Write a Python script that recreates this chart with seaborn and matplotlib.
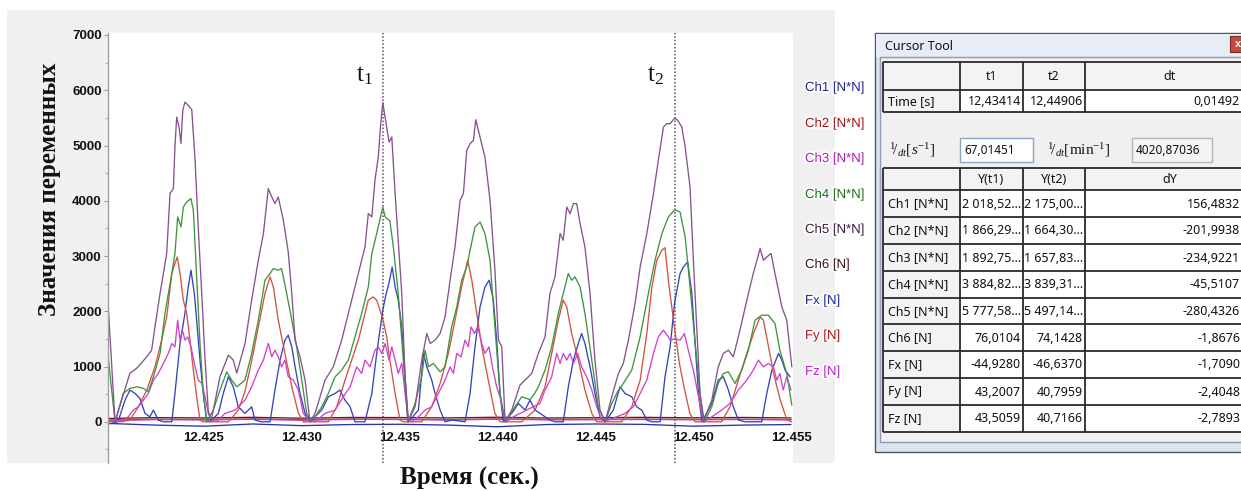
import numpy as np
import pandas as pd
import matplotlib
matplotlib.use("Agg")
import matplotlib.pyplot as plt
import seaborn as sns
from matplotlib.patches import Rectangle
from matplotlib.ticker import MultipleLocator
import matplotlib.patheffects as pe

# ---------------- data (time offsets in ms after 12.420 s, values) ----------------
T_BASE = 12.42
T1, T2 = 12.43414, 12.44906

ch5_pts = [(0.10,2150),(0.46,0),(1.22,880),(1.57,970),(2.08,1175),(2.33,1296),(2.50,1718),(2.76,2325),(3.10,3045),
           (3.27,4135),(3.44,4220),(3.52,4972),(3.61,5514),(3.73,5333),(3.83,5037),(3.92,5636),(4.03,5786),(4.20,5726),
           (4.38,5648),(4.55,4732),(4.71,3526),(4.89,2321),(5.06,1116),(5.22,212),(5.36,0),(5.82,814),(6.25,1206),
           (6.50,1116),(6.68,880),(7.10,1417),(7.44,2200),(7.78,2923),(8.04,3406),(8.29,4220),(8.47,4068),(8.63,3949),
           (8.80,4068),(9.06,3647),(9.31,3073),(9.49,2321),(9.66,1477),(9.91,1175),(10.17,754),(10.42,0),(10.68,152),
           (11.19,754),(11.61,994),(12.04,1477),(12.55,2200),(12.81,2562),(13.23,3164),(13.40,3768),(13.58,3707),
           (13.74,4370),(13.91,4791),(14.02,5333),(14.14,5777),(14.34,5333),(14.46,5063),(14.60,5153),(14.77,4130),
           (14.93,3285),(15.11,2321),(15.28,814),(15.42,0),(15.79,271),(16.13,1116),(16.39,1598),(16.56,1417),
           (16.81,1477),(17.07,1598),(17.32,1898),(17.58,2562),(17.83,3164),(18.09,4008),(18.26,4130),(18.43,4912),
           (18.60,5033),(18.77,5093),(18.89,5467),(19.11,5153),(19.36,4791),(19.62,4008),(19.87,2743),(20.05,1477),
           (20.22,1356),(20.39,0),(20.73,212),(21.15,664),(21.41,754),(21.75,875),(22.09,1237),(22.43,1537),
           (22.68,2321),(22.94,2622),(23.20,3406),(23.36,3285),(23.54,3887),(23.71,3768),(23.88,3949),(24.05,3949),
           (24.22,3587),(24.47,3164),(24.73,2321),(24.98,1116),(25.24,212),(25.50,0),(25.84,452),(26.18,875),
           (26.43,1056),(26.69,1477),(27.03,2140),(27.29,2803),(27.63,3406),(27.97,4130),(28.22,4732),(28.48,5333),
           (28.65,5395),(28.82,5395),(29.06,5497),(29.21,5455),(29.42,5333),(29.59,4972),(29.84,4249),(30.01,2923),
           (30.18,1718),(30.35,513),(30.52,0),(30.95,392),(31.28,994),(31.54,1237),(31.80,1296),(32.05,1175),
           (32.39,1658),(32.74,2200),(33.07,2683),(33.42,3135),(33.59,2923),(33.76,2983),(33.98,3045),(34.18,2683),
           (34.53,2079),(34.78,1839),(35.04,994)]

ch4_pts = [(0.10,1200),(0.46,0),(0.88,513),(1.22,604),(1.57,633),(1.91,604),(2.16,543),(2.42,814),(2.76,1237),
           (3.01,1960),(3.36,2683),(3.52,3045),(3.66,3707),(3.83,3526),(3.95,3887),(4.12,3978),(4.34,4039),(4.46,3828),
           (4.63,2622),(4.80,1417),(4.97,513),(5.14,0),(5.48,212),(5.82,573),(6.17,904),(6.42,754),(6.68,633),
           (7.10,754),(7.44,1237),(7.78,1839),(8.12,2562),(8.38,2683),(8.55,2773),(8.80,2743),(8.97,2773),(9.23,2321),
           (9.49,1839),(9.74,1356),(10.00,754),(10.25,152),(10.51,0),(11.02,271),(11.36,513),(11.70,814),(12.04,935),
           (12.38,1116),(12.72,1537),(13.06,1960),(13.40,2441),(13.58,3045),(13.83,3406),(14.14,3885),(14.26,3707),
           (14.50,3640),(14.68,3164),(14.93,2321),(15.19,1116),(15.42,0),(15.79,332),(16.13,814),(16.30,1296),
           (16.47,994),(16.72,1056),(17.07,904),(17.32,994),(17.66,1718),(17.92,2079),(18.17,2562),(18.43,2803),
           (18.60,3104),(18.85,3526),(19.11,3616),(19.36,3406),(19.62,2923),(19.87,1718),(20.13,513),(20.39,0),
           (20.90,271),(21.24,452),(21.66,400),(21.90,513),(22.09,633),(22.43,935),(22.77,1356),(23.11,1960),
           (23.36,2321),(23.62,2683),(23.79,2562),(23.96,2622),(24.22,2441),(24.47,1960),(24.82,1116),(25.15,271),
           (25.50,0),(25.84,332),(26.18,573),(26.43,694),(26.86,935),(27.29,1537),(27.71,2321),(28.05,2923),
           (28.40,3406),(28.73,3707),(29.06,3839),(29.33,3797),(29.59,3345),(29.84,2441),(30.10,1417),(30.35,513),
           (30.57,0),(30.95,271),(31.28,694),(31.54,875),(31.80,904),(32.14,694),(32.48,935),(32.82,1296),
           (33.16,1839),(33.50,1929),(33.84,1929),(34.18,1779),(34.43,1296),(34.78,875),(35.04,300)]

ch2_pts = [(0.10,20),(0.80,0),(1.22,31),(1.65,271),(2.08,573),(2.50,994),(2.84,1477),(3.10,1898),(3.36,2683),
           (3.52,2864),(3.64,2983),(3.78,2683),(3.95,2200),(4.12,1960),(4.29,1477),(4.46,935),(4.63,452),(4.80,31),
           (4.97,0),(6.25,0),(6.76,212),(7.10,550),(7.44,1100),(7.78,1718),(8.12,2321),(8.38,2622),(8.55,2441),
           (8.80,1839),(9.14,1237),(9.49,633),(9.83,152),(10.08,0),(11.36,0),(11.79,271),(12.21,754),(12.55,1116),
           (12.89,1477),(13.23,1960),(13.40,2200),(13.65,2260),(13.83,2200),(14.14,1866),(14.34,1537),(14.50,1116),
           (14.77,513),(15.02,31),(15.19,0),(16.13,0),(16.64,271),(17.07,694),(17.49,1237),(17.83,1839),(18.17,2441),
           (18.48,2923),(18.69,2562),(18.94,1960),(19.20,1356),(19.53,754),(19.87,152),(20.13,0),(21.24,0),
           (21.92,212),(22.43,633),(22.77,1237),(23.11,1839),(23.36,2200),(23.54,2079),(23.79,1598),(24.13,1116),
           (24.47,573),(24.82,152),(25.07,0),(26.35,0),(26.86,271),(27.29,754),(27.63,1598),(27.89,2441),
           (28.14,2923),(28.40,3104),(28.56,3150),(28.75,2500),(29.06,1664),(29.30,1050),(29.55,600),(29.83,152),
           (30.09,0),(31.45,0),(31.88,271),(32.31,754),(32.74,1237),(33.08,1598),(33.42,1898),(33.59,1839),
           (33.85,1356),(34.11,875),(34.45,392),(34.79,31),(35.04,0)]

ch1_pts = [(0.10,-40),(0.61,0),(0.97,392),(1.22,573),(1.48,513),(1.73,423),(1.99,152),(2.24,90),(2.42,212),
           (2.67,31),(2.93,0),(3.36,0),(3.52,513),(3.78,1417),(4.03,1960),(4.20,2441),(4.34,2743),(4.51,2321),
           (4.63,1839),(4.80,1116),(4.97,513),(5.14,31),(5.31,0),(5.74,152),(5.99,513),(6.25,814),(6.50,633),
           (6.76,271),(7.10,152),(7.44,271),(7.61,31),(7.95,0),(8.38,0),(8.63,573),(8.89,1116),(9.14,1477),
           (9.31,1568),(9.49,1356),(9.66,994),(9.91,513),(10.17,152),(10.42,0),(11.02,212),(11.36,452),(11.70,513),
           (11.95,573),(12.21,392),(12.47,271),(12.72,0),(13.23,0),(13.58,513),(13.83,1237),(14.14,2018),(14.30,2300),
           (14.45,2500),(14.62,2800),(14.77,2441),(14.93,2200),(15.11,1718),(15.28,814),(15.45,0),(15.96,212),
           (16.22,1237),(16.39,994),(16.64,754),(16.81,513),(17.07,212),(17.32,0),(17.66,31),(18.34,0),(18.60,513),
           (18.85,1356),(19.11,2079),(19.36,2441),(19.58,2562),(19.79,2200),(19.96,1477),(20.13,513),(20.30,0),
           (20.73,152),(21.07,332),(21.41,212),(21.66,392),(21.92,212),(22.17,152),(22.43,90),(22.68,31),(22.94,0),
           (23.36,0),(23.62,633),(23.88,1116),(24.13,1417),(24.30,1598),(24.47,1417),(24.73,994),(24.98,513),
           (25.24,90),(25.50,0),(25.92,212),(26.26,633),(26.52,513),(26.86,452),(27.11,271),(27.37,212),(27.63,31),
           (27.89,0),(28.31,0),(28.56,814),(28.82,1356),(29.06,2175),(29.33,2683),(29.50,2803),(29.72,2893),
           (29.93,2321),(30.10,1417),(30.27,513),(30.45,0),(30.95,332),(31.28,754),(31.54,814),(31.80,573),
           (32.05,271),(32.31,31),(32.65,0),(33.50,0),(33.76,513),(34.02,935),(34.36,1237),(34.53,1116),(34.70,935),
           (34.95,814)]

ch3_pts = [(0.10,0),(0.88,31),(1.14,90),(1.39,212),(1.65,271),(1.91,392),(2.16,513),(2.42,754),(2.67,875),
           (2.93,1056),(3.18,1237),(3.36,1417),(3.52,1356),(3.66,1839),(3.78,1477),(3.90,1658),(4.03,1477),
           (4.17,1537),(4.34,1356),(4.55,994),(4.71,754),(4.89,694),(5.06,452),(5.22,152),(5.40,31),(5.74,31),
           (6.08,152),(6.59,212),(7.10,392),(7.44,633),(7.78,935),(8.04,1116),(8.29,1417),(8.47,1175),(8.63,1296),
           (8.80,1175),(8.97,994),(9.14,1116),(9.31,814),(9.57,754),(9.83,573),(10.08,152),(10.34,31),(10.68,0),
           (11.19,152),(11.70,212),(12.12,452),(12.47,633),(12.81,994),(13.06,875),(13.23,1116),(13.49,994),
           (13.74,1296),(13.91,1356),(14.09,1237),(14.26,1417),(14.46,1116),(14.60,1356),(14.77,1116),(14.93,875),
           (15.11,1056),(15.28,513),(15.45,31),(15.62,0),(15.96,90),(16.30,212),(16.64,271),(16.98,513),(17.32,754),
           (17.58,994),(17.75,875),(17.92,1237),(18.14,1175),(18.34,1477),(18.51,1356),(18.65,1718),(18.82,1598),
           (18.99,1718),(19.20,1417),(19.36,1237),(19.57,1356),(19.74,994),(19.96,633),(20.13,452),(20.30,152),
           (20.47,0),(20.81,90),(21.15,152),(21.49,212),(21.83,271),(22.17,332),(22.43,573),(22.77,814),(23.03,1237),
           (23.20,1056),(23.36,1237),(23.54,1116),(23.71,1237),(23.88,1056),(24.10,1237),(24.30,994),(24.56,814),
           (24.82,573),(25.07,271),(25.33,31),(25.66,31),(26.09,90),(26.52,152),(26.94,271),(27.29,513),(27.63,754),
           (27.97,1237),(28.22,1537),(28.48,1658),(28.73,1537),(28.82,1477),(29.06,1500),(29.33,1477),(29.55,1598),
           (29.75,1296),(30.01,935),(30.27,452),(30.52,0),(30.95,90),(31.46,212),(31.88,332),(32.31,573),(32.74,754),
           (33.07,935),(33.33,1116),(33.59,994),(33.84,1056),(34.10,994),(34.27,754),(34.43,875),(34.60,573),
           (34.78,814),(35.00,573)]

small_ms = [0.1, 2.5, 5.0, 7.5, 10.0, 12.5, 15.0, 17.5, 20.0, 22.5, 25.0, 27.5, 30.0, 32.5, 35.0]
ch6_vals = [60, 75, 70, 80, 65, 78, 76, 70, 82, 68, 74, 80, 72, 78, 70]
fx_vals = [-30, -60, -80, -40, -70, -50, -45, -60, -90, -50, -40, -47, -80, -60, -50]
fy_vals = [30, 45, 40, 50, 35, 48, 43, 38, 50, 40, 42, 47, 41, 45, 40]
fz_vals = [25, 40, 35, 45, 30, 44, 43, 35, 46, 38, 40, 41, 38, 42, 36]

channels = ["Ch1 [N*N]", "Ch2 [N*N]", "Ch3 [N*N]", "Ch4 [N*N]", "Ch5 [N*N]", "Ch6 [N]", "Fx [N]", "Fy [N]", "Fz [N]"]
line_colors = ["#3444bb", "#d2533e", "#cc44cc", "#3f953f", "#86528f", "#5a1c1c", "#2a34a8", "#b0201c", "#c236c4"]
label_colors = ["#1f2a8a", "#a31515", "#b41eb4", "#1f6e1f", "#3d1f3d", "#3a1414", "#1a239c", "#a81616", "#b424c8"]

xtick_vals = [12.425, 12.430, 12.435, 12.440, 12.445, 12.450, 12.455]
xtick_labels = ["12.425", "12.430", "12.435", "12.440", "12.445", "12.450", "12.455"]
ytick_vals = [0, 1000, 2000, 3000, 4000, 5000, 6000, 7000]

# cursor tool table content
cur_header = ["", "t1", "t2", "dt"]
time_row = ["Time [s]", "12,43414", "12,44906", "0,01492"]
inv_dt_s = "67,01451"
inv_dt_min = "4020,87036"
y_header = ["", "Y(t1)", "Y(t2)", "dY"]
y_t1 = ["2 018,52…", "1 866,29…", "1 892,75…", "3 884,82…", "5 777,58…", "76,0104", "-44,9280", "43,2007", "43,5059"]
y_t2 = ["2 175,00…", "1 664,30…", "1 657,83…", "3 839,31…", "5 497,14…", "74,1428", "-46,6370", "40,7959", "40,7166"]
d_y = ["156,4832", "-201,9938", "-234,9221", "-45,5107", "-280,4326", "-1,8676", "-1,7090", "-2,4048", "-2,7893"]

# ---------------- build long data frame ----------------
frames = []
for name, pts in [("Ch1 [N*N]", ch1_pts), ("Ch2 [N*N]", ch2_pts), ("Ch3 [N*N]", ch3_pts),
                  ("Ch4 [N*N]", ch4_pts), ("Ch5 [N*N]", ch5_pts)]:
    arr = np.array(pts, dtype=float)
    frames.append(pd.DataFrame({"time": T_BASE + arr[:, 0] / 1000.0, "value": arr[:, 1], "channel": name}))
for name, vals in [("Ch6 [N]", ch6_vals), ("Fx [N]", fx_vals), ("Fy [N]", fy_vals), ("Fz [N]", fz_vals)]:
    frames.append(pd.DataFrame({"time": T_BASE + np.array(small_ms) / 1000.0, "value": vals, "channel": name}))
df = pd.concat(frames, ignore_index=True)

# ---------------- figure ----------------
sns.set_theme(style="white")
plt.rcParams["font.family"] = ["Liberation Sans", "DejaVu Sans"]
plt.rcParams["mathtext.fontset"] = "custom"
plt.rcParams["mathtext.rm"] = "Liberation Serif"
plt.rcParams["mathtext.it"] = "Liberation Serif:italic"

W, H = 1241, 491
fig = plt.figure(figsize=(W / 100, H / 100), dpi=100)
fig.patch.set_facecolor("white")

# grey panel behind the chart
fig.add_artist(Rectangle((7 / W, 1 - 463 / H), 828 / W, 453 / H, transform=fig.transFigure,
                         facecolor="#f0f0f0", edgecolor="none", zorder=-5))

ax = fig.add_axes([108 / W, 1 - 463 / H, 685 / W, 430 / H])
ax.set_facecolor("white")
palette = dict(zip(channels, line_colors))
draw_order = ["Ch6 [N]", "Fx [N]", "Fy [N]", "Fz [N]", "Ch1 [N*N]", "Ch2 [N*N]", "Ch3 [N*N]", "Ch4 [N*N]", "Ch5 [N*N]"]
sns.lineplot(data=df, x="time", y="value", hue="channel", hue_order=draw_order, palette=palette,
             estimator=None, sort=False, legend=False, linewidth=0.95, ax=ax)

ax.set_xlim(12.4201, 12.4551)
ax.set_ylim(-746, 7036)
ax.set_xlabel("")
ax.set_ylabel("")
ax.set_xticks(xtick_vals)
ax.set_xticklabels(xtick_labels)
ax.set_yticks(ytick_vals)
ax.set_yticklabels([str(v) for v in ytick_vals])
ax.yaxis.set_minor_locator(MultipleLocator(500))
ax.tick_params(axis="x", which="both", length=0, pad=-22, labelsize=9.5, labelcolor="#111111")
ax.tick_params(axis="y", which="major", direction="out", length=3, width=0.8, color="#9a9a9a",
               pad=1.5, labelsize=9.5, labelcolor="#111111", left=True)
ax.tick_params(axis="y", which="minor", direction="out", length=2, width=0.8, color="#b0b0b0", left=True)
for lab in ax.get_xticklabels() + ax.get_yticklabels():
    lab.set_fontweight("bold")
for side in ["top", "right", "bottom"]:
    ax.spines[side].set_visible(False)
ax.spines["left"].set_color("#a0a0a0")
ax.spines["left"].set_linewidth(1.0)

for tc in (T1, T2):
    ax.axvline(tc, color="#555555", linestyle=(0, (1, 1.3)), linewidth=1.1, zorder=1)
ax.annotate(r"$\mathrm{t_1}$", xy=(T1, 1), xycoords=("data", "axes fraction"), xytext=(-10, -42),
            textcoords="offset pixels", ha="right", va="center", fontsize=18, color="#111111")
ax.annotate(r"$\mathrm{t_2}$", xy=(T2, 1), xycoords=("data", "axes fraction"), xytext=(-11, -42),
            textcoords="offset pixels", ha="right", va="center", fontsize=18, color="#111111")

# axis titles
fig.text(50 / W, 1 - 189 / H, "Значения переменных", rotation=90, ha="center", va="center",
         fontsize=18, fontweight="bold", family=["Liberation Serif", "DejaVu Serif"], color="#111111")
fig.text(469 / W, 1 - 478 / H, "Время (сек.)", ha="center", va="center",
         fontsize=18, fontweight="bold", family=["Liberation Serif", "DejaVu Serif"], color="#111111")

# legend (coloured labels)
leg_y = [88, 124, 159, 195, 230, 265, 301, 336, 372]
for name, col, yy in zip(channels, label_colors, leg_y):
    fig.text(805 / W, 1 - yy / H, name, ha="left", va="center", fontsize=9.5, color=col,
             path_effects=[pe.withStroke(linewidth=2.5, foreground="white")])

# ---------------- Cursor Tool window ----------------
ui = fig.add_axes([0, 0, 1, 1], zorder=5)
ui.set_xlim(0, W)
ui.set_ylim(H, 0)
ui.axis("off")
ui.patch.set_alpha(0)

TF = ["Noto Sans", "DejaVu Sans"]
ui.add_patch(Rectangle((875, 33), 380, 419, facecolor="#dbe5f1", edgecolor="#4a5566", lw=1.0))
ui.add_patch(Rectangle((876, 34), 380, 23, facecolor="#e6edf6", edgecolor="none"))
ui.text(885, 46, "Cursor Tool", ha="left", va="center", fontsize=9, family=TF, color="#111111")
ui.add_patch(Rectangle((1230, 36), 20, 16, facecolor="#c8493d", edgecolor="#7a2a22", lw=0.8))
ui.text(1238, 44, "x", ha="center", va="center", fontsize=8, color="white", fontweight="bold")
ui.add_patch(Rectangle((880, 57), 370, 385, facecolor="#f0f0f0", edgecolor="#8d9bb0", lw=1.0))

col_x = [883, 960, 1023, 1085, 1255]
LINE = "#2a2a2a"
HDR_BG = "#f3f3f3"


def draw_table(row_edges, rows):
    for r, cells in enumerate(rows):
        y0, y1 = row_edges[r], row_edges[r + 1]
        for c in range(4):
            x0, x1 = col_x[c], col_x[c + 1]
            bg = HDR_BG if (r == 0 or c == 0) else "white"
            ui.add_patch(Rectangle((x0, y0), x1 - x0, y1 - y0, facecolor=bg, edgecolor="none"))
            txt = cells[c]
            if not txt:
                continue
            ym = (y0 + y1) / 2 + 0.5
            if r == 0:
                ui.text((x0 + x1) / 2, ym, txt, ha="center", va="center", fontsize=9, family=TF, color="#111111")
            elif c == 0:
                ui.text(x0 + 5, ym, txt, ha="left", va="center", fontsize=9, family=TF, color="#111111")
            else:
                xr = x1 - 2 if c < 3 else 1240
                ui.text(xr, ym, txt, ha="right", va="center", fontsize=9, family=TF, color="#111111")
    for yy in row_edges:
        ui.plot([col_x[0], 1255], [yy, yy], color=LINE, lw=1.3, solid_capstyle="butt")
    for xx in col_x[:-1]:
        ui.plot([xx, xx], [row_edges[0], row_edges[-1]], color=LINE, lw=1.3, solid_capstyle="butt")
    ui.plot([col_x[0] - 3, col_x[0] - 3], [row_edges[0], row_edges[-1]], color="#9aa6b8", lw=1.0)


draw_table([62, 90, 112], [cur_header, time_row])

# 1/dt row
ui.text(889, 150, r"$^{1}\!/_{dt}[s^{-1}]$", ha="left", va="center", fontsize=11, color="#111111")
ui.add_patch(Rectangle((960, 138), 73, 24, facecolor="white", edgecolor="#8aa4c4", lw=1.0))
ui.text(964, 150, inv_dt_s, ha="left", va="center", fontsize=8.5, family=TF, color="#111111")
ui.text(1047, 150, r"$^{1}\!/_{dt}[\mathrm{min}^{-1}]$", ha="left", va="center", fontsize=11, color="#111111")
ui.add_patch(Rectangle((1132, 138), 80, 24, facecolor="#f4f4f4", edgecolor="#b4b4b4", lw=1.0))
ui.text(1136, 150, inv_dt_min, ha="left", va="center", fontsize=8.5, family=TF, color="#111111")

row_edges2 = [168, 190, 217, 244, 271, 298, 324, 351, 378, 405, 432]
rows2 = [y_header] + [[lab, a, b, d] for lab, a, b, d in zip(channels, y_t1, y_t2, d_y)]
draw_table(row_edges2, rows2)

fig.savefig("out.png", dpi=100, facecolor="white")
